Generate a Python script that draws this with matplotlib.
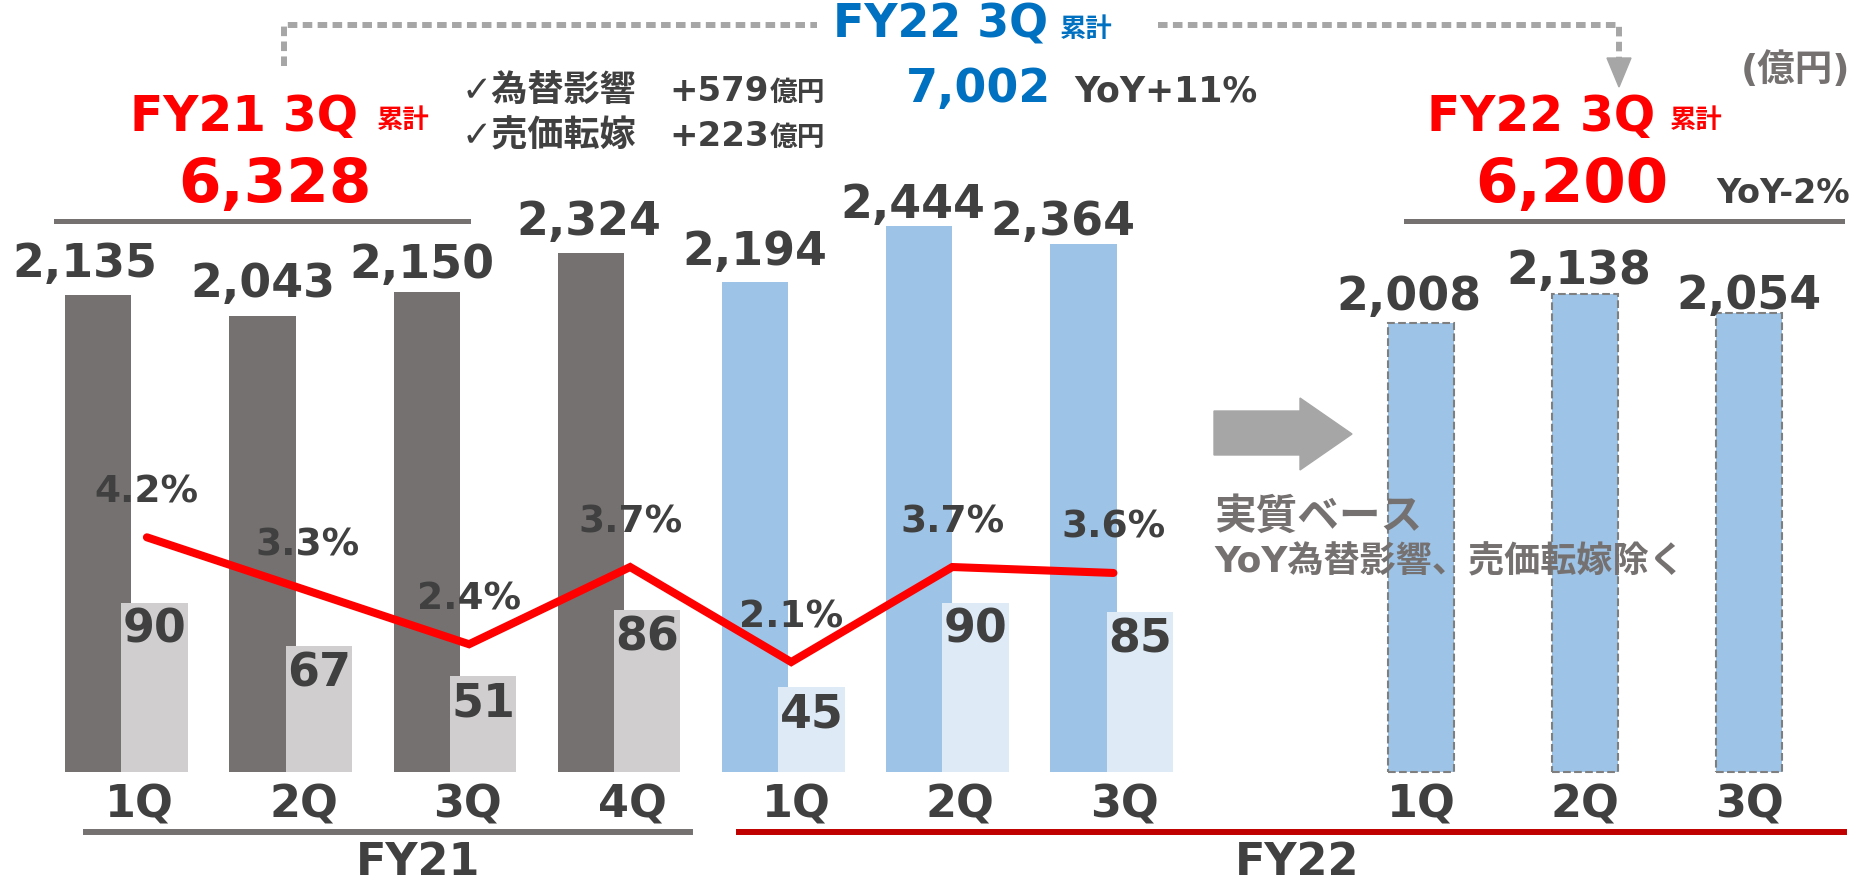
import matplotlib
matplotlib.use('Agg')
import matplotlib.pyplot as plt
import matplotlib.transforms as mtransforms
from matplotlib.lines import Line2D
from matplotlib.patches import Polygon
import numpy as np

# DejaVu for latin (close to Meiryo's Verdana-like latin), Noto CJK for Japanese
plt.rcParams['font.family'] = ['DejaVu Sans', 'Noto Sans CJK JP']
plt.rcParams['font.weight'] = 'bold'

# ---- data (億円) ----
quarters = ['1Q', '2Q', '3Q', '4Q', '1Q', '2Q', '3Q']
fiscal_year = ['FY21', 'FY21', 'FY21', 'FY21', 'FY22', 'FY22', 'FY22']
sales = [2135, 2043, 2150, 2324, 2194, 2444, 2364]
profit = [90, 67, 51, 86, 45, 90, 85]
margin = [4.2, 3.3, 2.4, 3.7, 2.1, 3.7, 3.6]
real_quarters = ['1Q', '2Q', '3Q']
real_sales = [2008, 2138, 2054]
fy21_total = 6328
fy22_total = 7002
fy22_real_total = 6200
fy22_yoy = 11
fy22_real_yoy = -2
fx_effect = 579
price_pass = 223

# ---- colours ----
TXT = '#404040'
GRAY_TXT = '#767171'
RED = '#FF0000'
BLUE_TXT = '#0070C0'
dark_col = {'FY21': '#767171', 'FY22': '#9DC3E6'}
light_col = {'FY21': '#D0CECE', 'FY22': '#DEEBF7'}

W, H = 1857, 885
fig = plt.figure(figsize=(W / 100, H / 100), dpi=100)


def fx(px):
    return px / W


def fy(py):
    return 1 - py / H


# layout: one slot = 164.2 px, first bar centre at 98.3 px, baseline at 772 px
slot, x0, base = 164.2, 98.3, 772
ax = fig.add_axes([0, 0, 1, 1])
ax.set_xlim(-x0 / slot, (W - x0) / slot)
ax.set_ylim((base - H) / 0.2234, base / 0.2234)
ax.axis('off')

ax2 = ax.twinx()
ax2.set_ylim(np.array(ax.get_ylim()) / 8.415)
ax2.axis('off')

ax3 = ax.twinx()
ax3.set_ylim((786.8 - H) / 59.4, 786.8 / 59.4)
ax3.axis('off')

w = 0.404
x = np.arange(len(sales))
xr = 8.055 + np.arange(len(real_sales))

ax.bar(x, sales, width=w, color=[dark_col[f] for f in fiscal_year], zorder=2)
ax2.bar(x + 0.343, profit, width=w, color=[light_col[f] for f in fiscal_year], zorder=2)
ax.bar(xr, real_sales, width=w, color='#9DC3E6', edgecolor='#7F7F7F',
       linestyle='--', linewidth=1.5, zorder=2)

# value labels above the big bars (offsets in px)
lab_dy = [18, 19, 14, 18, 17, 8, 9]
lab_dx = [-13, 0, -5, -2, 0, -6, -21]
for xi, v, dy, dx in zip(x, sales, lab_dy, lab_dx):
    ax.annotate(f'{v:,}', (xi, v), xytext=(dx * 0.72, dy * 0.72), textcoords='offset points',
                ha='center', va='baseline', fontsize=33, color=TXT, zorder=5)
real_dy = [13, 10, 4]
real_dx = [-12, -6, 0]
for xi, v, dy, dx in zip(xr, real_sales, real_dy, real_dx):
    ax.annotate(f'{v:,}', (xi, v), xytext=(dx * 0.72, dy * 0.72), textcoords='offset points',
                ha='center', va='baseline', fontsize=33, color=TXT, zorder=5)

# profit labels inside the light bars
for xi, v in zip(x + 0.343, profit):
    ax2.annotate(f'{v}', (xi, v), xytext=(0, -40 * 0.72), textcoords='offset points',
                 ha='center', va='baseline', fontsize=33, color=TXT, zorder=5)

# margin line
xl = 0.296 + 0.981 * x
ax3.plot(xl, margin, color=RED, lw=5.8, solid_capstyle='round', solid_joinstyle='miter', zorder=4)
for xi, m in zip(xl, margin):
    ax3.annotate(f'{m:.1f}%', (xi, m), xytext=(0, 35 * 0.72), textcoords='offset points',
                 ha='center', va='baseline', fontsize=27, color=TXT, zorder=5)

# quarter labels
qtrans = mtransforms.blended_transform_factory(ax.transData, fig.transFigure)
for xi, q in zip(x + 0.25, quarters):
    ax.text(xi, fy(817), q, transform=qtrans, ha='center', va='baseline', fontsize=32, color=TXT)
for xi, q in zip(xr, real_quarters):
    ax.text(xi, fy(817), q, transform=qtrans, ha='center', va='baseline', fontsize=32, color=TXT)

# fiscal year underlines
fig.add_artist(Line2D([fx(86), fx(690)], [fy(832), fy(832)], color='#767171', lw=4.3))
fig.add_artist(Line2D([fx(739), fx(1844)], [fy(832), fy(832)], color='#C00000', lw=4.3))
fig.text(fx(418), fy(884), 'FY21', ha='center', va='bottom', fontsize=32, color=TXT)
fig.text(fx(1297), fy(884), 'FY22', ha='center', va='bottom', fontsize=32, color=TXT)

# totals
fig.add_artist(Line2D([fx(56), fx(468)], [fy(221), fy(221)], color='#767171', lw=3.6))
fig.add_artist(Line2D([fx(1406), fx(1842)], [fy(221), fy(221)], color='#767171', lw=3.6))

fig.text(fx(130), fy(131), 'FY21 3Q', ha='left', va='baseline', fontsize=35, color=RED)
fig.text(fx(377), fy(128), '累計', ha='left', va='baseline', fontsize=19, color=RED)
fig.text(fx(275), fy(202), f'{fy21_total:,}', ha='center', va='baseline', fontsize=44, color=RED)

fig.text(fx(1427), fy(131), 'FY22 3Q', ha='left', va='baseline', fontsize=35, color=RED)
fig.text(fx(1670), fy(128), '累計', ha='left', va='baseline', fontsize=19, color=RED)
fig.text(fx(1572), fy(202), f'{fy22_real_total:,}', ha='center', va='baseline', fontsize=44, color=RED)
fig.text(fx(1850), fy(203), f'YoY{fy22_real_yoy}%', ha='right', va='baseline', fontsize=24, color=TXT)

fig.text(fx(833), fy(38), 'FY22 3Q', ha='left', va='baseline', fontsize=33, color=BLUE_TXT)
fig.text(fx(1060), fy(37), '累計', ha='left', va='baseline', fontsize=19, color=BLUE_TXT)
fig.text(fx(906), fy(102), f'{fy22_total:,}', ha='left', va='baseline', fontsize=33, color=BLUE_TXT)
fig.text(fx(1074), fy(102), f'YoY+{fy22_yoy}%', ha='left', va='baseline', fontsize=25, color=TXT)
fig.text(fx(1850), fy(71), '(億円)', ha='right', va='center', fontsize=27, color=GRAY_TXT)

fig.text(fx(462), fy(101), '✓為替影響', ha='left', va='baseline', fontsize=26, color=TXT)
fig.text(fx(669), fy(101), f'+{fx_effect}', ha='left', va='baseline', fontsize=24.5, color=TXT)
fig.text(fx(770), fy(101), '億円', ha='left', va='baseline', fontsize=20, color=TXT)
fig.text(fx(462), fy(146), '✓売価転嫁', ha='left', va='baseline', fontsize=26, color=TXT)
fig.text(fx(669), fy(146), f'+{price_pass}', ha='left', va='baseline', fontsize=24.5, color=TXT)
fig.text(fx(770), fy(146), '億円', ha='left', va='baseline', fontsize=20, color=TXT)

# dotted bracket
dot = dict(color='#A6A6A6', lw=4.3, linestyle=(0, (1.6, 0.9)))
fig.add_artist(Line2D([fx(284), fx(284), fx(817)], [fy(66), fy(25), fy(25)], **dot))
fig.add_artist(Line2D([fx(1158), fx(1619), fx(1619)], [fy(25), fy(25), fy(58)], **dot))
fig.add_artist(Polygon([(fx(1607), fy(58)), (fx(1631), fy(58)), (fx(1619), fy(87))],
                       closed=True, color='#A6A6A6', transform=fig.transFigure))

# block arrow and note
arrow_pts = [(1214, 411), (1300, 411), (1300, 398), (1352, 434), (1300, 470), (1300, 455), (1214, 455)]
fig.add_artist(Polygon([(fx(a), fy(b)) for a, b in arrow_pts], closed=True,
                       color='#A6A6A6', transform=fig.transFigure))
fig.text(fx(1214), fy(517), '実質ベース', ha='left', va='center', fontsize=30, color=GRAY_TXT, zorder=6)
fig.text(fx(1214), fy(562), 'YoY為替影響、売価転嫁除く', ha='left', va='center', fontsize=26,
         color=GRAY_TXT, zorder=6)

fig.savefig('out.png', dpi=100)
